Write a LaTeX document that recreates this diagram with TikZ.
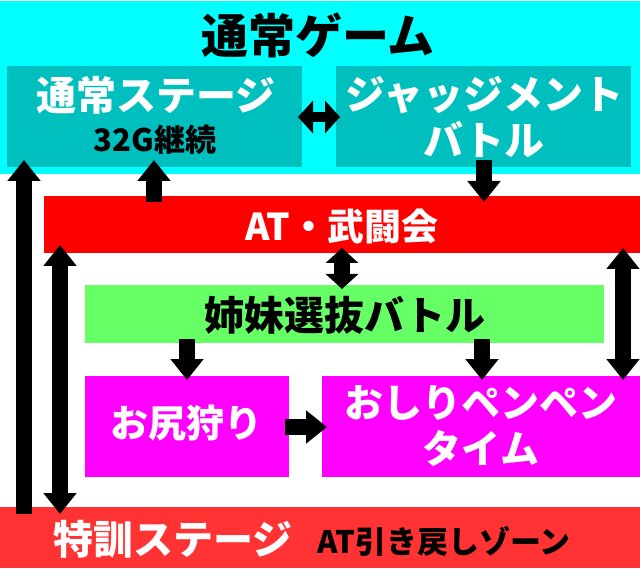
\documentclass[tikz,border=0pt]{standalone}
\usepackage{fontspec}
\newfontfamily\jp{Noto Sans CJK JP Black}
\usetikzlibrary{arrows.meta}
\definecolor{cyanbg}{RGB}{0,255,255}
\definecolor{tealbox}{RGB}{0,191,191}
\definecolor{redbox}{RGB}{255,0,0}
\definecolor{redlow}{RGB}{255,51,51}
\definecolor{greenbox}{RGB}{102,255,102}
\definecolor{magbox}{RGB}{255,0,255}
\tikzset{
  x=1pt,y=-1pt,
  box/.style={inner sep=0pt,outer sep=0pt,rectangle},
  txt/.style={inner sep=0pt,font=\jp,align=center},
  big/.style={txt,font=\jp\fontsize{#1}{#1}\selectfont},
  arr/.style={line width=15.5pt,black,-{Triangle[width=32pt,length=21pt]}},
  dbl/.style={line width=15.5pt,black,{Triangle[width=32pt,length=21pt]}-{Triangle[width=32pt,length=21pt]}},
  dblshort/.style={line width=15.5pt,black,{Triangle[width=32pt,length=15pt]}-{Triangle[width=32pt,length=15pt]}},
  dblside/.style={line width=10.5pt,black,{Triangle[width=32pt,length=15pt]}-{Triangle[width=32pt,length=15pt]}},
}
\begin{document}
\begin{tikzpicture}
\useasboundingbox (0,0) rectangle (640,569);
% boxes
\path[fill=cyanbg] (0,1) rectangle (640,174) node[midway,box] (game) {};
\path[fill=tealbox] (7,66) rectangle (302,167) node[midway,box] (stage) {};
\path[fill=tealbox] (336,66) rectangle (631,167) node[midway,box] (judge) {};
\path[fill=redbox] (44,196) rectangle (640,253) node[midway,box] (at) {};
\path[fill=greenbox] (85,285) rectangle (604,343) node[midway,box] (sister) {};
\path[fill=magbox] (85,376) rectangle (289,477) node[midway,box] (hunt) {};
\path[fill=magbox] (322,376) rectangle (640,477) node[midway,box] (spank) {};
\path[fill=redlow] (0,507) rectangle (640,568) node[midway,box] (train) {};
% connector ends
\coordinate (a1s) at (24,514); \coordinate (a1e) at (24,160);
\coordinate (a2s) at (154,202); \coordinate (a2e) at (154,160);
\coordinate (a3s) at (298,117); \coordinate (a3e) at (340,117);
\coordinate (a4s) at (484,160); \coordinate (a4e) at (484,202);
\coordinate (a5s) at (342,248); \coordinate (a5e) at (342,289);
\coordinate (a6s) at (60,245); \coordinate (a6e) at (60,514);
\coordinate (a7s) at (623,248); \coordinate (a7e) at (623,380);
\coordinate (a8s) at (187,339); \coordinate (a8e) at (187,380);
\coordinate (a9s) at (482,339); \coordinate (a9e) at (482,380);
\coordinate (a10s) at (285,427); \coordinate (a10e) at (327,427);
\draw[arr] (a1s) -- (a1e);
\draw[arr] (a2s) -- (a2e);
\draw[dblside] (a3s) -- (a3e);
\draw[arr] (a4s) -- (a4e);
\draw[dblshort] (a5s) -- (a5e);
\draw[dbl] (a6s) -- (a6e);
\draw[dbl] (a7s) -- (a7e);
\draw[arr] (a8s) -- (a8e);
\draw[arr] (a9s) -- (a9e);
\draw[arr] (a10s) -- (a10e);
% labels
\node[big=47,black] (tgame) at (318,35) {通常ゲーム};
\node[big=40,white] (tstage) at (156,95) {通常ステージ};
\node[big=31,black] (tg) at (155,140) {32G継続};
\node[big=40,white] (tjudge) at (484,95) {ジャッジメント};
\node[big=40,white] (tbattle) at (484,140) {バトル};
\node[big=37,white] (tat) at (342,226) {AT・武闘会};
\node[big=40,black] (tsister) at (345,315) {姉妹選抜バトル};
\node[big=38,white] (thunt) at (186,423) {お尻狩り};
\node[big=39,white] (tspank) at (481,403) {おしりペンペン};
\node[big=39,white] (ttime) at (481,448) {タイム};
\node[big=40,white] (ttrain) at (173,539) {特訓ステージ};
\node[big=31,black] (tzone) at (444,541) {AT引き戻しゾーン};
\end{tikzpicture}
\end{document}
